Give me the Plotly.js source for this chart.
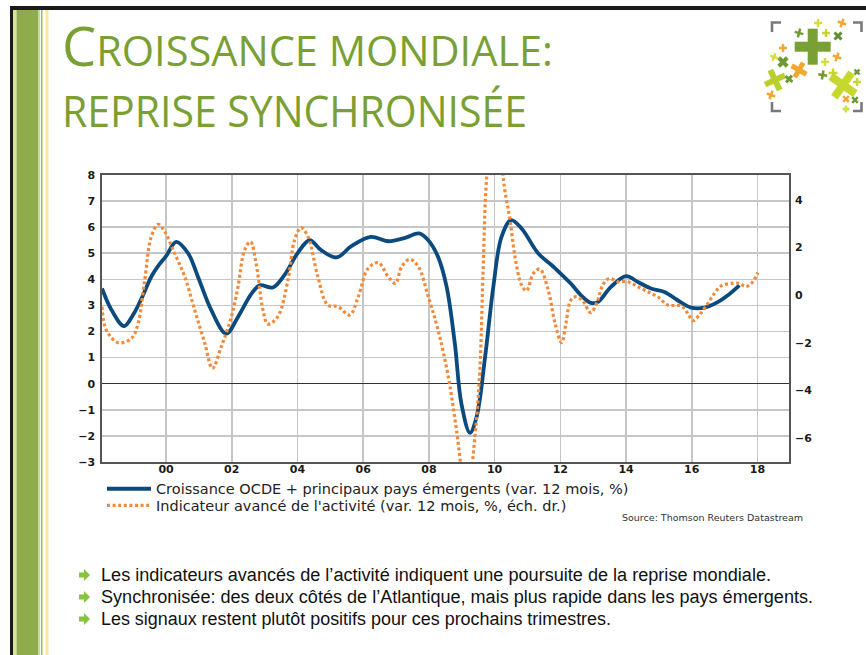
<!DOCTYPE html>
<html><head><meta charset="utf-8">
<script src="https://cdn.plot.ly/plotly-3.0.1.min.js"></script>
<style>
html,body{margin:0;padding:0;background:#fff;}
#slide{position:relative;width:866px;height:655px;overflow:hidden;background:#fff;}
#chart{position:absolute;left:0;top:0;width:866px;height:655px;}
#over{position:absolute;left:0;top:0;pointer-events:none;}
</style></head>
<body><div id="slide">
<div id="chart"></div>
<svg id="over" width="866" height="655" xmlns="http://www.w3.org/2000/svg">
  <rect x="10" y="6" width="856" height="4" fill="#1a1a1a"/>
  <rect x="10" y="6" width="3" height="649" fill="#1a1a1a"/>
  <rect x="13" y="10" width="3.5" height="645" fill="#d6e2a0"/>
  <rect x="16.5" y="10" width="22" height="645" fill="#8fac4c"/>
  <rect x="38.5" y="10" width="1.5" height="645" fill="#c8de8c"/>
  <rect x="41" y="10" width="1.5" height="645" fill="#9cc04f"/>
  <rect x="45.5" y="10" width="3" height="645" fill="#fde7a3"/>
  <g id="logo"></g>
  <text x="62" y="66" textLength="491" lengthAdjust="spacingAndGlyphs" font-family="Open Sans" font-weight="400" fill="#7aa033"><tspan font-size="55">C</tspan><tspan font-size="42">ROISSANCE MONDIALE:</tspan></text>
  <text x="62" y="127" textLength="465" lengthAdjust="spacingAndGlyphs" font-family="Open Sans" font-weight="400" font-size="44" fill="#7aa033">REPRISE SYNCHRONISÉE</text>
  <g id="bullets"></g>
</svg>
</div>
<script>
// ---- data (decimal years) ----
var growthX = [1998.05,1998.33,1998.72,1999.0,1999.25,1999.55,1999.8,2000.0,2000.31,2000.67,2000.97,2001.38,2001.83,2002.19,2002.6,2002.85,2003.25,2003.6,2004.0,2004.37,2004.72,2005.19,2005.64,2006.23,2006.76,2007.27,2007.7,2007.98,2008.28,2008.54,2008.79,2008.99,2009.25,2009.45,2009.71,2009.96,2010.21,2010.5,2010.82,2011.33,2011.74,2012.09,2012.32,2012.63,2012.93,2013.14,2013.54,2014.0,2014.36,2014.76,2015.17,2015.57,2015.98,2016.39,2016.79,2017.1,2017.45];
var growthY = [3.65,2.85,2.21,2.65,3.26,4.1,4.58,4.89,5.44,5.0,4.1,2.81,1.92,2.56,3.45,3.77,3.69,4.16,5.0,5.5,5.12,4.84,5.27,5.63,5.46,5.59,5.76,5.5,4.86,3.71,1.53,-0.77,-1.88,-1.28,1.02,3.71,5.63,6.27,5.95,4.99,4.54,4.12,3.84,3.39,3.1,3.13,3.71,4.12,3.9,3.65,3.52,3.2,2.92,2.92,3.13,3.39,3.77];
var leadX = [1998.05,1998.18,1998.54,1998.95,1999.15,1999.35,1999.55,1999.76,1999.96,2000.26,2000.57,2000.87,2001.18,2001.41,2001.68,2001.99,2002.19,2002.39,2002.57,2002.74,2002.95,2003.1,2003.4,2003.71,2003.91,2004.11,2004.32,2004.62,2004.92,2005.24,2005.59,2005.85,2006.15,2006.46,2006.76,2006.98,2007.17,2007.42,2007.68,2007.98,2008.28,2008.59,2008.84,2009.15,2009.4,2009.55,2009.65,2009.76,2010.0,2010.31,2010.47,2010.62,2010.82,2010.97,2011.18,2011.38,2011.63,2011.84,2012.04,2012.17,2012.32,2012.48,2012.68,2012.93,2013.14,2013.29,2013.49,2013.75,2014.05,2014.36,2014.66,2014.96,2015.27,2015.68,2015.88,2016.03,2016.23,2016.49,2016.69,2016.89,2017.2,2017.45,2017.65,2017.86,2018.01];
var leadY = [-0.48,-1.46,-1.99,-1.81,-1.18,0.64,2.46,2.98,2.67,1.76,0.78,-0.62,-2.02,-3.07,-2.16,-0.9,0.36,1.9,2.25,1.34,-0.62,-1.21,-0.9,0.64,2.32,2.84,2.46,0.78,-0.41,-0.48,-0.83,-0.06,1.13,1.37,0.78,0.5,1.2,1.51,1.2,-0.06,-1.46,-3.42,-5.66,-8.6,-5.94,-3.14,1.06,4.98,7.8,4.42,3.16,1.62,0.43,0.19,0.92,1.09,0.22,-1.18,-1.99,-1.18,-0.2,-0.06,-0.23,-0.73,-0.2,0.43,0.71,0.57,0.57,0.36,0.15,-0.06,-0.41,-0.45,-0.76,-1.07,-0.83,-0.34,0.08,0.39,0.5,0.5,0.36,0.57,0.95];
var xTickVals = [2000,2002,2004,2006,2008,2010,2012,2014,2016,2018];
var xTickText = ['00','02','04','06','08','10','12','14','16','18'];
var leftTicks = [-3,-2,-1,0,1,2,3,4,5,6,7,8];
var rightTicks = [-6,-4,-2,0,2,4];
var growthName = 'Croissance OCDE + principaux pays émergents (var. 12 mois, %)';
var leadName = "Indicateur avancé de l'activité (var. 12 mois, %, éch. dr.)";
var sourceText = 'Source: Thomson Reuters Datastream';
var bulletTexts = [
  'Les indicateurs avancés de l’activité indiquent une poursuite de la reprise mondiale.',
  'Synchronisée: des deux côtés de l’Atlantique, mais plus rapide dans les pays émergents.',
  'Les signaux restent plutôt positifs pour ces prochains trimestres.'
];

var tickFont = {family:'DejaVu Sans, Liberation Sans, Arial', size:11, color:'#1a1a1a', weight:700};
var traces = [
  {x:leadX, y:leadY, yaxis:'y2', type:'scatter', mode:'lines', name:leadName, legend:'legend2',
   line:{color:'#f28a3a', width:3.2, dash:'3px,2.6px', shape:'spline', smoothing:1}, hoverinfo:'skip'},
  {x:growthX, y:growthY, type:'scatter', mode:'lines', name:growthName, legend:'legend',
   line:{color:'#0b4a7e', width:3.8, shape:'spline', smoothing:1}, hoverinfo:'skip'}
];
var legFont = {family:'DejaVu Sans, Liberation Sans, Arial', size:14.5, color:'#222'};
var layout = {
  width:866, height:655,
  margin:{l:102, r:77, t:175, b:193.3, pad:0},
  paper_bgcolor:'rgba(0,0,0,0)', plot_bgcolor:'#fff',
  showlegend:true,
  xaxis:{range:[1998.05,2018.96], tickvals:xTickVals, ticktext:xTickText, showgrid:true, gridcolor:'#c6c6c6', gridwidth:1.6,
         showline:true, linecolor:'#555', linewidth:1.6, mirror:true, zeroline:false, ticks:'', tickfont:tickFont, ticklabelstandoff:-4},
  yaxis:{range:[-3,8], tickvals:leftTicks, showgrid:true, gridcolor:'#c6c6c6', gridwidth:1.6, zeroline:true, zerolinecolor:'#333', zerolinewidth:1.4,
         showline:true, linecolor:'#555', linewidth:1.6, mirror:true, ticks:'', tickfont:tickFont, ticklabelstandoff:3},
  yaxis2:{range:[-7,5.05], tickvals:rightTicks, overlaying:'y', side:'right', showgrid:false, zeroline:false, showline:false, ticks:'', tickfont:tickFont, ticklabelstandoff:5},
  legend:{x:0, xanchor:'left', y:-0.0935, yanchor:'middle', bgcolor:'rgba(0,0,0,0)', font:legFont, itemwidth:44, borderwidth:0},
  legend2:{x:0, xanchor:'left', y:-0.1515, yanchor:'middle', bgcolor:'rgba(0,0,0,0)', font:legFont, itemwidth:44, borderwidth:0},
  annotations:[{text:sourceText, xref:'paper', yref:'paper', x:1.0233, y:-0.192, xanchor:'right', yanchor:'middle', showarrow:false,
                font:{family:'DejaVu Sans, Arial', size:9.5, color:'#333'}}]
};
Plotly.newPlot('chart', traces, layout, {staticPlot:true, displayModeBar:false});

// ---- decorations: logo & bullets ----
var NS='http://www.w3.org/2000/svg';
function el(tag, attrs, parent){var e=document.createElementNS(NS,tag);for(var k in attrs)e.setAttribute(k,attrs[k]);parent.appendChild(e);return e;}
var logo=document.getElementById('logo');
var crosses=[
 [812.7,46.7,36,10,0,'#79a035'],[775,80,22,6,-25,'#b9cf2c'],[843,85,30,8,35,'#c6d82e'],[799,70,17,5,30,'#f2a72f'],
 [783,62,12,4,45,'#6f9a33'],[818,23,8,2.5,0,'#d3df3e'],[842,23,9,2.5,20,'#f2a72f'],[799,33,9,2.5,15,'#6f9a33'],
 [826,33,8,2.5,0,'#c6d82e'],[838,36,10,3,45,'#5f8f2e'],[783,48,8,2.5,0,'#f2a72f'],[774,57,8,2.5,20,'#d3df3e'],
 [825,62,8,2.5,0,'#d3df3e'],[837,57,9,2.5,20,'#f2a72f'],[789,79,9,3,40,'#6f9a33'],[822.7,75,9,2.5,10,'#6f9a33'],
 [833,73,9,2.5,0,'#c6d82e'],[857,72,7,2.5,45,'#6f9a33'],[857,82,8,2.5,0,'#c6d82e'],[771,95,9,2.5,20,'#f2a72f'],
 [846,99,8,2.5,45,'#f2a72f'],[855,100,8,2.5,45,'#6f9a33'],[846,109,7,2.5,0,'#d3df3e']
];
crosses.forEach(function(c){
  var g=el('g',{transform:'translate('+c[0]+','+c[1]+') rotate('+c[4]+')'},logo);
  el('rect',{x:-c[2]/2,y:-c[3]/2,width:c[2],height:c[3],fill:c[5]},g);
  el('rect',{x:-c[3]/2,y:-c[2]/2,width:c[3],height:c[2],fill:c[5]},g);
});
var br='#7a7a7a';
[['M772,32 V22.5 H781'],['M853,22.5 H861.5 V32'],['M772,102 V111 H781'],['M853,111 H861.5 V102']].forEach(function(d){
  el('path',{d:d[0],stroke:br,'stroke-width':2.6,fill:'none'},logo);
});
var bul=document.getElementById('bullets');
var bulletBase=[581,603,625], bulletW=[670,712,510];
bulletTexts.forEach(function(t,i){
  var y=bulletBase[i]-6;
  el('path',{d:'M79,'+(y-2.5)+' H84 V'+(y-6)+' L90,'+y+' L84,'+(y+6)+' V'+(y+2.5)+' H79 Z',fill:'#86c440'},bul);
  var tx=el('text',{x:101,y:bulletBase[i],'font-family':'Liberation Sans Narrow, Liberation Sans, Arial','font-size':18,fill:'#111',
    textLength:bulletW[i],lengthAdjust:'spacingAndGlyphs'},bul);
  tx.textContent=t;
});
</script></body></html>
